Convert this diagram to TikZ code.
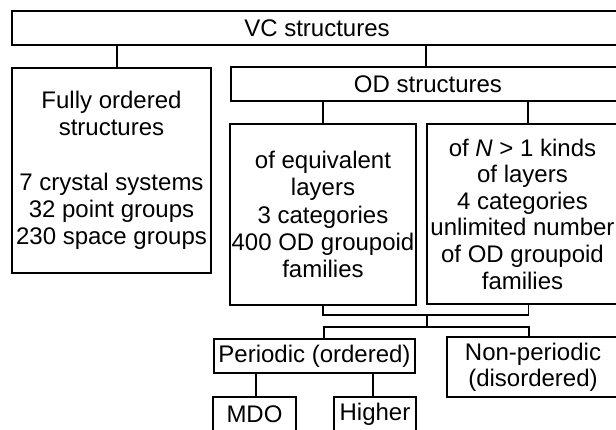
\documentclass[tikz,border=0pt]{standalone}
\usepackage{fontspec}
\setmainfont{Liberation Sans}
\usetikzlibrary{positioning}

\begin{document}
\begin{tikzpicture}[x=1pt,y=-1pt,
  box/.style={draw,line width=1.3pt,inner sep=1pt,align=center,
    font=\fontsize{24}{27.2}\selectfont},
  link/.style={line width=1.3pt}]
\useasboundingbox (0,0) rectangle (616,429);
\clip (0,0) rectangle (616,429);
\node[box,minimum width=610pt,minimum height=34pt] (VC) at (317,28) {VC structures};
\node[box,minimum width=199pt,minimum height=205pt] (FO) at (111.5,170.5)
  {Fully ordered\\structures\\[27.2pt]7 crystal systems\\32 point groups\\230 space groups};
\node[box,minimum width=394pt,minimum height=34pt] (OD) at (428,84) {OD structures};
\node[box,minimum width=186pt,minimum height=181pt] (Eq) at (323,214.5)
  {of equivalent\\layers\\3 categories\\400 OD groupoid\\families};
\node[box,minimum width=191pt,minimum height=180pt,font=\fontsize{24}{26.6}\selectfont] (Nk) at (522.5,214)
  {of \textit{N} > 1 kinds\\of layers\\4 categories\\unlimited number\\of OD groupoid\\families};
\node[box,minimum width=201pt,minimum height=34pt] (Per) at (314.5,356) {Periodic (ordered)};
\node[box,minimum width=172pt,minimum height=60pt,font=\fontsize{24}{26.4}\selectfont] (Np) at (533,367)
  {Non-periodic\\(disordered)};
\node[box,minimum width=83pt,minimum height=34pt] (MDO) at (254.5,414) {MDO};
\node[box,minimum width=82pt,minimum height=34pt] (Hi) at (375,414) {Higher};
\coordinate (J1) at (427,315);
\coordinate (J2) at (427,327);
\draw[link] ([xshift=5.5]FO.north) -- ([xshift=5.5]FO.north |- VC.south);
\draw[link] ([xshift=-2]OD.north) -- ([xshift=-2]OD.north |- VC.south);
\draw[link] (Eq.north) -- (Eq.north |- OD.south);
\draw[link] ([xshift=5.5]Nk.north) -- ([xshift=5.5]Nk.north |- OD.south);
\draw[link] (Eq.south) |- (J1) -| ([xshift=6]Nk.south);
\draw[link] (J1) -- (J2);
\draw[link] ([xshift=9.5]Per.north) |- (J2) -| ([xshift=-4]Np.north);
\draw[link] ([xshift=1.5]MDO.north) -- ([xshift=1.5]MDO.north |- Per.south);
\draw[link] ([xshift=-2]Hi.north) -- ([xshift=-2]Hi.north |- Per.south);
\end{tikzpicture}
\end{document}
